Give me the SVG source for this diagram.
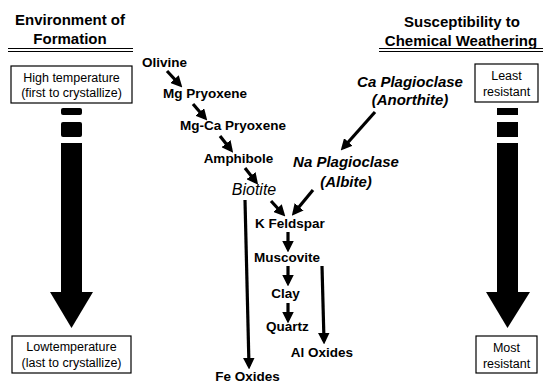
<svg xmlns="http://www.w3.org/2000/svg" width="545" height="383" viewBox="0 0 545 383">
<style>
.hdr{font-family:"Liberation Sans",Arial,sans-serif;font-weight:bold;font-size:15px;text-anchor:middle;fill:#000}
.lbl{font-family:"Liberation Sans",Arial,sans-serif;font-weight:bold;font-size:13.5px;text-anchor:middle;fill:#000}
.ital{font-family:"Liberation Sans",Arial,sans-serif;font-weight:bold;font-style:italic;font-size:15px;text-anchor:middle;fill:#000}
.box{font-family:"Liberation Sans",Arial,sans-serif;font-size:12.5px;text-anchor:middle;fill:#000}
.frame{fill:#fff;stroke:#000;stroke-width:1.2}
.rule{stroke:#000;stroke-width:1.2}
.conn{stroke:#000;stroke-width:3.2;fill:none;marker-end:url(#ah)}
.big{fill:#000}
</style>
<defs>
<marker id="ah" viewBox="0 0 10 10" refX="7" refY="5" markerWidth="3.6" markerHeight="3.6" orient="auto">
<path d="M0,0 L10,5 L0,10 z" fill="#000"/>
</marker>
</defs>
<rect width="545" height="383" fill="#fff"/>

<g id="header-left">
<text class="hdr" x="70" y="25">Environment of</text>
<text class="hdr" x="70" y="44">Formation</text>
<line class="rule" x1="8" y1="48.5" x2="133" y2="48.5"/>
<line class="rule" x1="8" y1="51.5" x2="133" y2="51.5"/>
</g>
<g id="header-right">
<text class="hdr" x="462" y="27">Susceptibility to</text>
<text class="hdr" x="461" y="46">Chemical Weathering</text>
<line class="rule" x1="379" y1="48.5" x2="543" y2="48.5"/>
<line class="rule" x1="379" y1="51.5" x2="543" y2="51.5"/>
</g>

<g id="high-temp">
<rect class="frame" x="11" y="66" width="121" height="37"/>
<text class="box" x="71.5" y="82">High temperature</text>
<text class="box" x="71.5" y="97">(first to crystallize)</text>
</g>
<g id="low-temp">
<rect class="frame" x="12" y="336" width="119" height="37"/>
<text class="box" x="71.5" y="351">Lowtemperature</text>
<text class="box" x="71.5" y="367">(last to crystallize)</text>
</g>
<g id="least-resistant">
<rect class="frame" x="475" y="64" width="63" height="38"/>
<text class="box" x="506.5" y="80">Least</text>
<text class="box" x="506.5" y="96">resistant</text>
</g>
<g id="most-resistant">
<rect class="frame" x="476" y="336" width="61" height="37"/>
<text class="box" x="506.5" y="352">Most</text>
<text class="box" x="506.5" y="368">resistant</text>
</g>

<g id="temp-arrow">
<rect class="big" x="61" y="108" width="21" height="7" rx="2"/>
<rect class="big" x="61" y="122" width="21" height="15" rx="2"/>
<rect class="big" x="61" y="143" width="21" height="150"/>
<polygon class="big" points="50,292 93,292 71.5,328"/>
</g>
<g id="weathering-arrow">
<rect class="big" x="497" y="108" width="21" height="7"/>
<rect class="big" x="497" y="122" width="21" height="15"/>
<rect class="big" x="497" y="143" width="21" height="150"/>
<polygon class="big" points="486,292 530,292 507.5,328"/>
</g>

<g id="olivine"><text class="lbl" x="164.5" y="67">Olivine</text></g>
<g id="mg-pyroxene"><text class="lbl" x="205" y="98">Mg Pryoxene</text></g>
<g id="mgca-pyroxene"><text class="lbl" x="233" y="130">Mg-Ca Pryoxene</text></g>
<g id="amphibole"><text class="lbl" x="238.5" y="163">Amphibole</text></g>
<g id="biotite"><text class="ital" x="254" y="195" style="font-weight:normal;font-size:16px">Biotite</text></g>
<g id="k-feldspar"><text class="lbl" x="290" y="228">K Feldspar</text></g>
<g id="muscovite"><text class="lbl" x="287" y="262">Muscovite</text></g>
<g id="clay"><text class="lbl" x="285.5" y="298">Clay</text></g>
<g id="quartz"><text class="lbl" x="287.5" y="331">Quartz</text></g>
<g id="al-oxides"><text class="lbl" x="322" y="357">Al Oxides</text></g>
<g id="fe-oxides"><text class="lbl" x="247.5" y="381">Fe Oxides</text></g>
<g id="ca-plagioclase">
<text class="ital" x="410" y="87">Ca Plagioclase</text>
<text class="ital" x="410" y="105">(Anorthite)</text>
</g>
<g id="na-plagioclase">
<text class="ital" x="346" y="167">Na Plagioclase</text>
<text class="ital" x="346" y="187">(Albite)</text>
</g>

<g id="connectors">
<line class="conn" x1="167" y1="71" x2="180" y2="85"/>
<line class="conn" x1="193" y1="104" x2="205" y2="118"/>
<line class="conn" x1="220" y1="136" x2="231" y2="150"/>
<line class="conn" x1="245" y1="168" x2="256" y2="182"/>
<line class="conn" x1="271" y1="201" x2="283" y2="214"/>
<line class="conn" x1="313" y1="190" x2="294" y2="213"/>
<line class="conn" x1="375" y1="112" x2="343" y2="148"/>
<line class="conn" x1="288" y1="232" x2="288" y2="249"/>
<line class="conn" x1="288" y1="266" x2="288" y2="283"/>
<line class="conn" x1="288" y1="303" x2="288" y2="320"/>
<line class="conn" x1="245" y1="200" x2="249" y2="366"/>
<line class="conn" x1="322" y1="266" x2="324" y2="341"/>
</g>
</svg>
